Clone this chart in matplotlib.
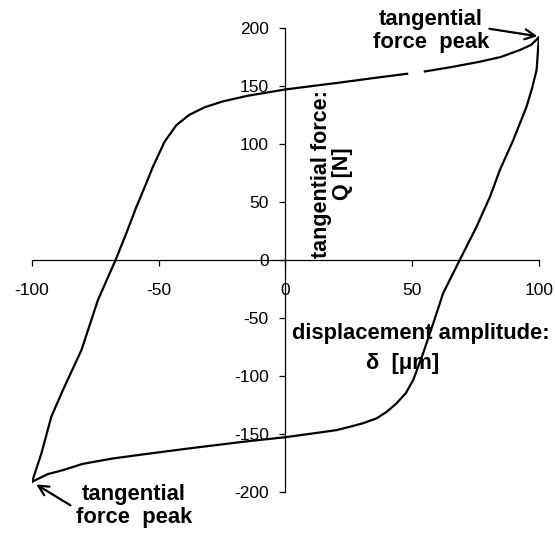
import numpy as np
import matplotlib.pyplot as plt

plt.rcParams['font.family'] = ['Liberation Sans', 'DejaVu Sans']
plt.rcParams['axes.unicode_minus'] = False

# loading branch: from negative peak up to positive peak (NaN = gap in the trace)
up_x = [-100, -96.3, -92.4, -87.8, -80.5, -74, -67, -62.8, -58.8, -55.5, -52.3, -47.7,
        -43, -38, -32, -25, -15, 0, 20, 37.2, 48, np.nan, 55, 66, 76.7, 85, 92.5, 97, 100]
up_y = [-191.5, -167, -135.4, -112.3, -77.8, -34.7, 0, 22.9, 45.8, 63, 80.3, 101.9,
        116.3, 125, 131.5, 136.5, 141.5, 147, 152.5, 157.5, 160.5, np.nan, 162.5, 166.5, 170.9, 175, 181, 185.5, 192]

# unloading branch: from positive peak back to negative peak
dn_x = [100, 99.1, 97.3, 95.1, 89.9, 84.6, 80.7, 75.4, 68.8, 62.2, 58.3, 54.3, 50.4,
        47.5, 43.8, 40, 35.9, 30.5, 25.4, 20.1, 10, 0, -15, -37.8, -55, -68, -80,
        -87.8, -94, -100]
dn_y = [192, 163.8, 148, 132, 103.4, 77.5, 54.4, 28.6, 0, -28.9, -54.8, -80.7, -103.7,
        -115, -123.8, -131, -136.8, -141, -144, -146.9, -150, -153, -156.5, -162.6, -167.5, -171.3, -176,
        -181.4, -185, -191.5]

x_ticks = [-100, -50, 0, 50, 100]
y_ticks = [-200, -150, -100, -50, 0, 50, 100, 150, 200]

fig = plt.figure(figsize=(5.55, 5.33), dpi=100)
ax = fig.add_axes([0.0577, 0.0775, 0.9133, 0.87])

ax.plot(up_x, up_y, color='black', lw=1.6)
ax.plot(dn_x, dn_y, color='black', lw=1.6)

ax.set_xlim(-100, 100)
ax.set_ylim(-200, 200)
ax.spines['left'].set_position(('data', 0))
ax.spines['bottom'].set_position(('data', 0))
ax.spines['top'].set_visible(False)
ax.spines['right'].set_visible(False)
for s in ['left', 'bottom']:
    ax.spines[s].set_linewidth(0.9)
ax.set_xticks(x_ticks)
ax.set_yticks(y_ticks)
ax.tick_params(axis='x', direction='out', length=4, width=0.9, pad=13, labelsize=12.5)
ax.tick_params(axis='y', direction='out', length=4, width=0.9, pad=8, labelsize=12.5)

ax.text(18.4, 74, 'tangential force:\nQ [N]', rotation=90, ha='center', va='center',
        fontsize=15.5, fontweight='bold', multialignment='center', linespacing=1.05)
ax.text(53.4, -63.3, 'displacement amplitude:', ha='center', va='center',
        fontsize=15.8, fontweight='bold')
ax.text(46.3, -89, '\u03b4  [\u03bcm]', ha='center', va='center',
        fontsize=15.8, fontweight='bold')

ax.text(57.4, 197.4, 'tangential\nforce  peak', ha='center', va='center',
        fontsize=15.8, fontweight='bold', linespacing=1.1, clip_on=False)
ax.annotate('', xy=(100.5, 192.5), xytext=(79.4, 199.7),
            arrowprops=dict(arrowstyle='->', lw=1.6, color='black',
                            mutation_scale=18), annotation_clip=False)

ax.text(-59.9, -212.4, 'tangential\nforce  peak', ha='center', va='center',
        fontsize=15.8, fontweight='bold', linespacing=1.1, clip_on=False)
ax.annotate('', xy=(-99.3, -192.5), xytext=(-83.9, -213),
            arrowprops=dict(arrowstyle='->', lw=1.6, color='black',
                            mutation_scale=18), annotation_clip=False)

fig.savefig('out.png', dpi=100)
